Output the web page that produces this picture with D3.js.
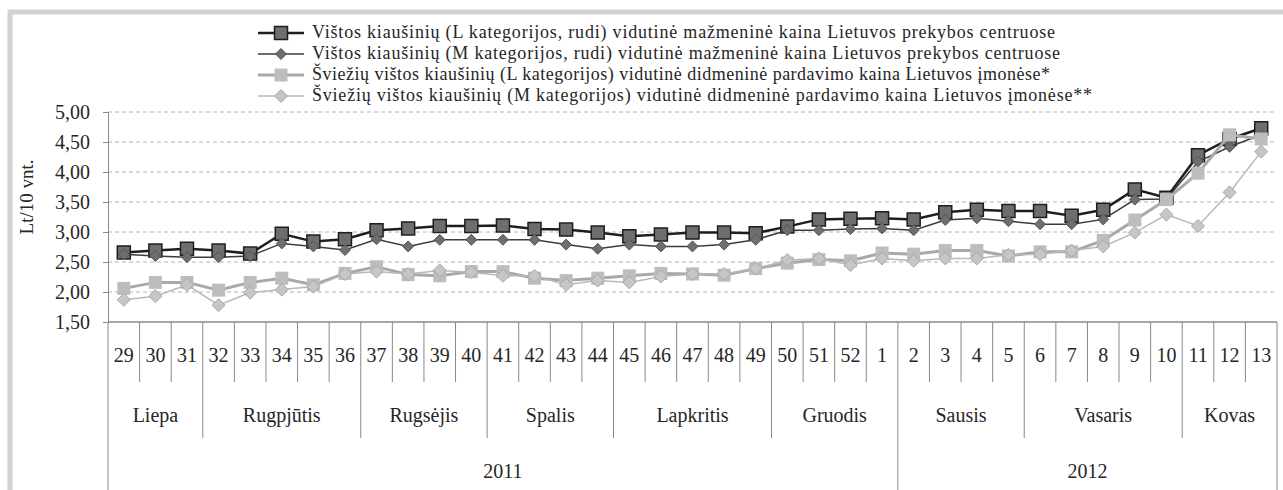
<!DOCTYPE html>
<html lang="lt">
<head>
<meta charset="UTF-8">
<title>Kiaušinių kainos</title>
<script src="https://d3js.org/d3.v7.min.js"></script>
<style>
  body { margin: 0; background: #fff; }
  svg text { font-family: "Liberation Serif", "DejaVu Serif", serif; fill: #262626; }
</style>
</head>
<body>
<svg width="1283" height="490"></svg>
<script>
// savaitės, mėnesiai, metai
var weeks = ['29','30','31','32','33','34','35','36','37','38','39','40','41','42','43','44',
  '45','46','47','48','49','50','51','52','1','2','3','4','5','6','7','8','9','10','11','12','13']
var months = ['Liepa','Rugpjūtis','Rugsėjis','Spalis','Lapkritis','Gruodis','Sausis','Vasaris','Kovas']
var monthWeeks = [3, 5, 4, 4, 5, 4, 4, 5, 3]
var years = ['2011', '2012']
var yearWeeks = [25, 12]
var yTicks = [1.5, 2, 2.5, 3, 3.5, 4, 4.5, 5]

var names = [
  'Vištos kiaušinių (L kategorijos, rudi) vidutinė mažmeninė kaina Lietuvos prekybos centruose',
  'Vištos kiaušinių (M kategorijos, rudi) vidutinė mažmeninė kaina Lietuvos prekybos centruose',
  'Šviežių vištos kiaušinių (L kategorijos) vidutinė didmeninė pardavimo kaina Lietuvos įmonėse*',
  'Šviežių vištos kiaušinių (M kategorijos) vidutinė didmeninė pardavimo kaina Lietuvos įmonėse**'
]

var retailL = [2.66, 2.69, 2.72, 2.69, 2.64, 2.97, 2.84, 2.88, 3.03, 3.06, 3.10, 3.10, 3.11, 3.05, 3.04, 2.99,
  2.93, 2.96, 2.99, 2.99, 2.98, 3.09, 3.21, 3.22, 3.23, 3.21, 3.33, 3.37, 3.35, 3.35, 3.27, 3.37, 3.71, 3.57, 4.28, 4.55, 4.73]
var retailM = [2.63, 2.60, 2.58, 2.58, 2.60, 2.81, 2.76, 2.70, 2.88, 2.76, 2.87, 2.87, 2.87, 2.87, 2.79, 2.72,
  2.79, 2.76, 2.76, 2.79, 2.87, 3.03, 3.03, 3.05, 3.06, 3.03, 3.20, 3.23, 3.18, 3.13, 3.13, 3.21, 3.54, 3.55, 4.17, 4.42, 4.62]
var wholesaleL = [2.06, 2.16, 2.16, 2.03, 2.16, 2.23, 2.12, 2.31, 2.42, 2.29, 2.27, 2.34, 2.34, 2.23, 2.19, 2.23,
  2.27, 2.31, 2.30, 2.28, 2.39, 2.48, 2.54, 2.52, 2.65, 2.63, 2.69, 2.69, 2.60, 2.67, 2.67, 2.86, 3.20, 3.54, 3.98, 4.62, 4.55]
var wholesaleM = [1.87, 1.93, 2.12, 1.78, 1.99, 2.04, 2.09, 2.30, 2.34, 2.30, 2.36, 2.33, 2.27, 2.27, 2.12, 2.19,
  2.16, 2.26, 2.30, 2.30, 2.39, 2.53, 2.56, 2.45, 2.56, 2.52, 2.56, 2.56, 2.62, 2.63, 2.69, 2.76, 2.99, 3.29, 3.10, 3.66, 4.34]

var svg = d3.select('svg')

// pilkas rėmelis
svg.append('rect')
  .attr('x', 10).attr('y', 12).attr('width', 1290).attr('height', 500)
  .attr('fill', 'none').attr('stroke', '#d2d2d2').attr('stroke-width', 5)

var x = d3.scaleBand().domain(weeks).range([108, 1277])
var y = d3.scaleLinear().domain([1.5, 5]).range([322, 112])
var bw = x.bandwidth()

// tinklelis
svg.append('g').selectAll('line')
  .data(yTicks.slice(1))
  .join('line')
  .attr('x1', 108).attr('x2', 1277)
  .attr('y1', d => y(d)).attr('y2', d => y(d))
  .attr('stroke', '#b4b4b4').attr('stroke-dasharray', '4,3')

// y ašis
var yAxis = svg.append('g')
  .attr('transform', 'translate(108,0)')
  .call(d3.axisLeft(y).tickValues(yTicks).tickSize(5).tickPadding(13)
    .tickFormat(d => d3.format('.2f')(d).replace('.', ',')))
yAxis.attr('font-family', null).attr('font-size', null)
yAxis.select('.domain').attr('stroke', '#888')
yAxis.selectAll('.tick line').attr('stroke', '#888')
yAxis.selectAll('text').style('font-size', '20px').attr('fill', null)

svg.append('text')
  .attr('transform', 'translate(33,197) rotate(-90)')
  .attr('text-anchor', 'middle')
  .style('font-size', '19px')
  .text('Lt/10 vnt.')

// x ašis
svg.append('line')
  .attr('x1', 108).attr('x2', 1277).attr('y1', 322).attr('y2', 322)
  .attr('stroke', '#888').attr('stroke-width', 1.5)

var sep = svg.append('g').attr('stroke', '#888')
weeks.forEach((w, i) => {
  sep.append('line').attr('x1', x(w) + bw).attr('x2', x(w) + bw).attr('y1', 322).attr('y2', 382)
  svg.append('text')
    .attr('x', x(w) + bw / 2).attr('y', 362)
    .attr('text-anchor', 'middle')
    .style('font-size', '20px')
    .text(w)
})

var k = 0
months.forEach((m, i) => {
  var x0 = x(weeks[k]), x1 = x(weeks[k + monthWeeks[i] - 1]) + bw
  sep.append('line').attr('x1', x1).attr('x2', x1).attr('y1', 382).attr('y2', 438)
  svg.append('text')
    .attr('x', (x0 + x1) / 2).attr('y', 422)
    .attr('text-anchor', 'middle')
    .style('font-size', '20px')
    .text(m)
  k += monthWeeks[i]
})

k = 0
sep.append('line').attr('x1', 108).attr('x2', 108).attr('y1', 322).attr('y2', 490)
years.forEach((yr, i) => {
  var x0 = x(weeks[k]), x1 = x(weeks[k + yearWeeks[i] - 1]) + bw
  sep.append('line').attr('x1', x1).attr('x2', x1).attr('y1', 438).attr('y2', 490)
  svg.append('text')
    .attr('x', (x0 + x1) / 2).attr('y', 478)
    .attr('text-anchor', 'middle')
    .style('font-size', '20px')
    .text(yr)
  k += yearWeeks[i]
})

// serijos
var series = [
  { name: names[0], values: retailL, line: '#1e1e1e', lw: 2.5, shape: 'square', size: 13, fill: '#6e6e6e', stroke: '#1e1e1e', sw: 1.5 },
  { name: names[1], values: retailM, line: '#3c3c3c', lw: 1.5, shape: 'diamond', size: 11, fill: '#6e6e6e', stroke: '#555', sw: 1 },
  { name: names[2], values: wholesaleL, line: '#a8a8a8', lw: 3, shape: 'square', size: 13, fill: '#bdbdbd', stroke: 'none', sw: 0 },
  { name: names[3], values: wholesaleM, line: '#b8b8b8', lw: 1.5, shape: 'diamond', size: 13, fill: '#c6c6c6', stroke: '#a8a8a8', sw: 1 }
]

function marker(sel, s) {
  var h = s.size / 2
  var path = s.shape === 'square'
    ? `M${-h},${-h}h${s.size}v${s.size}h${-s.size}Z`
    : `M0,${-h}L${h},0L0,${h}L${-h},0Z`
  sel.append('path')
    .attr('d', path)
    .attr('fill', s.fill)
    .attr('stroke', s.stroke)
    .attr('stroke-width', s.sw)
}

var line = d3.line()
  .x((d, i) => x(weeks[i]) + bw / 2)
  .y(d => y(d))

series.forEach(s => {
  var g = svg.append('g')
  g.append('path')
    .attr('d', line(s.values))
    .attr('fill', 'none')
    .attr('stroke', s.line)
    .attr('stroke-width', s.lw)
  s.values.forEach((v, i) => {
    var m = g.append('g').attr('transform', `translate(${x(weeks[i]) + bw / 2},${y(v)})`)
    marker(m, s)
  })
})

// legenda
var legendW = [743, 748, 738, 780]
series.forEach((s, i) => {
  var ly = 33 + i * 21
  var g = svg.append('g')
  g.append('line')
    .attr('x1', 258).attr('x2', 304).attr('y1', ly).attr('y2', ly)
    .attr('stroke', s.line).attr('stroke-width', s.lw)
  var m = g.append('g').attr('transform', `translate(281,${ly})`)
  marker(m, s)
  g.append('text')
    .attr('x', 312).attr('y', ly + 5)
    .style('font-size', '18px')
    .attr('textLength', legendW[i])
    .attr('lengthAdjust', 'spacing')
    .text(s.name)
})
</script>
</body>
</html>
